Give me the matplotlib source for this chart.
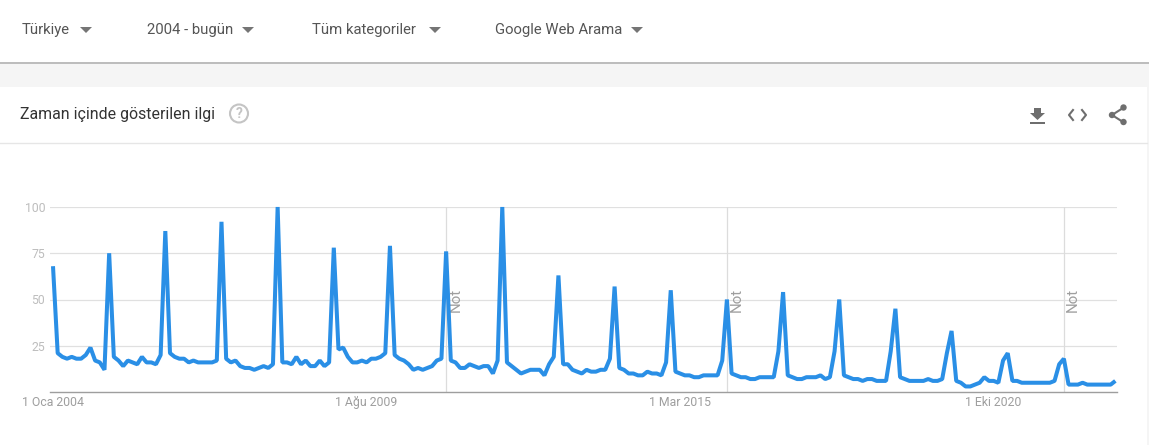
import matplotlib
matplotlib.use('Agg')
import matplotlib.pyplot as plt
from matplotlib.patches import Rectangle, Circle, Polygon

plt.rcParams['font.family'] = ['Roboto', 'DejaVu Sans']

# monthly interest, one row per year, 2004 - 2022
y2004 = [68, 21, 19, 18, 19, 18, 18, 20, 24, 17, 16, 12]
y2005 = [75, 19, 17, 14, 17, 16, 15, 19, 16, 16, 15, 20]
y2006 = [87, 21, 19, 18, 18, 16, 17, 16, 16, 16, 16, 17]
y2007 = [92, 18, 16, 17, 14, 13, 13, 12, 13, 14, 13, 15]
y2008 = [100, 16, 16, 15, 19, 15, 17, 14, 14, 17, 14, 16]
y2009 = [78, 23, 24, 19, 16, 16, 17, 16, 18, 18, 19, 21]
y2010 = [79, 20, 18, 17, 15, 12, 13, 12, 13, 14, 17, 18]
y2011 = [76, 17, 16, 13, 13, 15, 14, 13, 14, 14, 10, 17]
y2012 = [100, 16, 14, 12, 10, 11, 12, 12, 12, 9, 15, 19]
y2013 = [63, 15, 15, 12, 11, 10, 12, 11, 11, 12, 12, 18]
y2014 = [57, 13, 12, 10, 10, 9, 9, 11, 10, 10, 9, 16]
y2015 = [55, 11, 10, 9, 9, 8, 8, 9, 9, 9, 9, 17]
y2016 = [50, 10, 9, 8, 8, 7, 7, 8, 8, 8, 8, 22]
y2017 = [54, 9, 8, 7, 7, 8, 8, 8, 9, 7, 8, 22]
y2018 = [50, 9, 8, 7, 7, 6, 7, 7, 6, 6, 6, 22]
y2019 = [45, 8, 7, 6, 6, 6, 6, 7, 6, 6, 7, 21]
y2020 = [33, 6, 5, 3, 3, 4, 5, 8, 6, 6, 5, 17]
y2021 = [21, 6, 6, 5, 5, 5, 5, 5, 5, 5, 6, 15]
y2022 = [18, 4, 4, 4, 5, 4, 4, 4, 4, 4, 4, 6]

interest = (y2004 + y2005 + y2006 + y2007 + y2008 + y2009 + y2010 + y2011 + y2012 + y2013
            + y2014 + y2015 + y2016 + y2017 + y2018 + y2019 + y2020 + y2021 + y2022)
months = list(range(len(interest)))

y_ticks = [25, 50, 75, 100]
x_ticks = [0, 67, 134, 201]
x_labels = ['1 Oca 2004', '1 Ağu 2009', '1 Mar 2015', '1 Eki 2020']
note_months = [84, 144, 216]

filters = ['Türkiye', '2004 - bugün', 'Tüm kategoriler', 'Google Web Arama']
filter_x = [22, 147, 312, 495]
arrow_x = [86, 248, 435, 637]
title = 'Zaman içinde gösterilen ilgi'

W, H = 1149, 445
fig = plt.figure(figsize=(W / 100, H / 100), dpi=100, facecolor='white')

# page chrome, in pixels
bg = fig.add_axes([0, 0, 1, 1])
bg.set_xlim(0, W)
bg.set_ylim(H, 0)
bg.axis('off')
bg.add_patch(Rectangle((0, 64), W, 23, color='#f5f5f5', lw=0))
bg.add_patch(Rectangle((0, 61.5), W, 2.5, color='#bdbdbd', lw=0))
bg.add_patch(Rectangle((1147, 87), 2, H - 87, color='#f5f5f5', lw=0))
bg.plot([0, 1147], [142.5, 142.5], color='#e6e6e6', lw=1)

for label, x, ax_x in zip(filters, filter_x, arrow_x):
    bg.text(x, 30, label, fontsize=10.75, color='#555555', va='center', ha='left')
    bg.add_patch(Polygon([(ax_x - 6, 27), (ax_x + 6, 27), (ax_x, 33)], color='#757575', lw=0))

bg.text(20, 114.5, title, fontsize=11.4, color='#333333', va='center', ha='left')
bg.add_patch(Circle((239, 113.5), 9, fill=False, ec='#c4c4c4', lw=1.5))
bg.text(239, 113.5, '?', fontsize=10, color='#c4c4c4', va='center', ha='center', fontweight='bold')

# download, embed and share icons
bg.add_patch(Polygon([(1034, 108), (1041, 108), (1041, 113), (1045, 113), (1037.5, 120),
                      (1030, 113), (1034, 113)], color='#6e6e6e', lw=0))
bg.add_patch(Rectangle((1030, 122), 15, 2, color='#6e6e6e', lw=0))
bg.plot([1073, 1069, 1073], [110, 115, 120], color='#6e6e6e', lw=1.5)
bg.plot([1082, 1086, 1082], [110, 115, 120], color='#6e6e6e', lw=1.5)
bg.plot([1123, 1112, 1123], [108, 115, 122], color='#6e6e6e', lw=1.5)
for cx, cy in [(1123.5, 107.5), (1112, 115), (1123.5, 122)]:
    bg.add_patch(Circle((cx, cy), 3.2, color='#6e6e6e', lw=0))

# chart, month 0 sits at pixel 53, 4.68 px per month
px_left, px_right, px_top, px_base = 50, 1117, 207, 392
ax = fig.add_axes([px_left / W, 1 - px_base / H, (px_right - px_left) / W, (px_base - px_top) / H])
ax.patch.set_alpha(0)
ax.set_xlim((px_left - 53) / 4.68, (px_right - 53) / 4.68)
ax.set_ylim(0, 100)

ax.grid(axis='y', color='#e0e0e0', lw=0.9)
ax.set_axisbelow(True)
for m in note_months:
    ax.axvline(m, color='#dcdcdc', lw=0.9, zorder=1)
    ax.text(m + 2.0, 50, 'Not', rotation=90, fontsize=10.8, color='#9e9e9e', va='center', ha='center')

ax.plot(months, interest, color='#2a8fe6', lw=2.9, clip_on=False,
        solid_joinstyle='bevel', solid_capstyle='butt', zorder=3)

for side in ['top', 'right', 'left']:
    ax.spines[side].set_visible(False)
ax.spines['bottom'].set_color('#9e9e9e')
ax.spines['bottom'].set_linewidth(1)

ax.set_yticks(y_ticks)
ax.set_xticks(x_ticks)
ax.set_xticklabels(x_labels)
ax.tick_params(axis='y', length=0, pad=3.5, labelsize=8.8, labelcolor='#bdbdbd')
ax.tick_params(axis='x', length=0, pad=3, labelsize=8.8, labelcolor='#9e9e9e')

fig.savefig('out.png', dpi=100)
